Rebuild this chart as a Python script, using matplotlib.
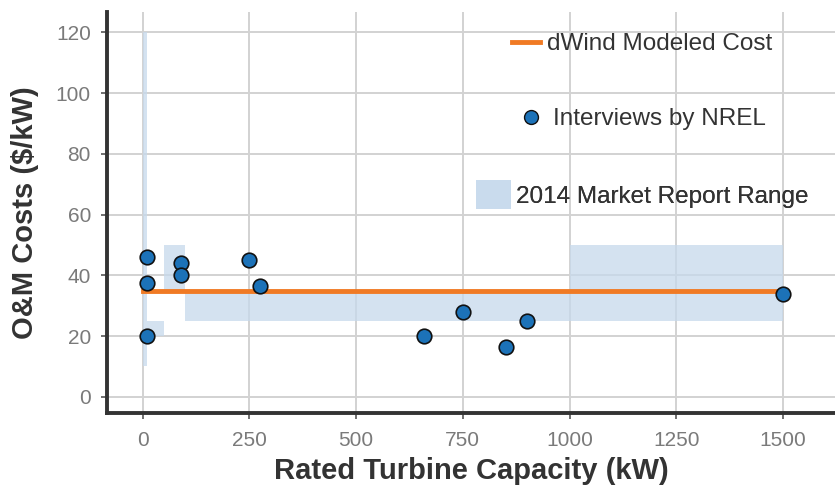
import matplotlib
matplotlib.use("Agg")
import matplotlib.pyplot as plt
from matplotlib.patches import Rectangle, Patch
from matplotlib.lines import Line2D

plt.rcParams['font.family'] = ['Liberation Sans', 'DejaVu Sans']

# market report ranges: (x0, x1, y0, y1)
range_x0 = [0, 10, 50, 100, 1000]
range_x1 = [10, 50, 100, 1000, 1500]
range_y0 = [10, 20, 35, 25, 25]
range_y1 = [120, 25, 50, 35, 50]

# dWind modeled cost
model_x = [0, 1500]
model_y = [35, 35]

# interviews by NREL
interview_kw = [10, 10, 10, 90, 90, 250, 275, 660, 750, 850, 900, 1500]
interview_cost = [46, 37.5, 20, 44, 40, 45, 36.5, 20, 28, 16.5, 25, 34]

fill_col = '#c6d9ec'
line_col = '#f07a24'
dot_col = '#1c72b8'

fig = plt.figure(figsize=(8.35, 4.87), dpi=100)
ax = fig.add_axes([0.128, 0.152, 0.872, 0.823])

for x0, x1, y0, y1 in zip(range_x0, range_x1, range_y0, range_y1):
    ax.add_patch(Rectangle((x0, y0), x1 - x0, y1 - y0, color=fill_col,
                           alpha=0.75, lw=0, zorder=1))

ax.plot(model_x, model_y, color=line_col, lw=3.5, zorder=3)
ax.scatter(interview_kw, interview_cost, s=110, color=dot_col,
           edgecolors='#111111', linewidths=1.2, zorder=4)

ax.set_xlim(-84, 1622)
ax.set_ylim(-5.3, 126.6)
ax.set_xticks([0, 250, 500, 750, 1000, 1250, 1500])
ax.set_yticks([0, 20, 40, 60, 80, 100, 120])
ax.grid(True, color='#d2d2d2', lw=1.4, zorder=0)
ax.set_axisbelow(True)

for s in ['top', 'right']:
    ax.spines[s].set_visible(False)
for s in ['left', 'bottom']:
    ax.spines[s].set_color('#333333')
    ax.spines[s].set_linewidth(2.8)
ax.tick_params(labelcolor='#7a7a7a', labelsize=15, length=4, width=1.2,
               color='#555555')
ax.tick_params(axis='x', pad=9)
ax.tick_params(axis='y', pad=7.5)

ax.set_xlabel('Rated Turbine Capacity (kW)', fontsize=21, fontweight='bold',
              color='#333333', labelpad=5)
ax.set_ylabel('O&M Costs (\\$/kW)', fontsize=21, fontweight='bold',
              color='#333333', labelpad=12)

# legend, one centered row per entry
leg_items = [
    (Line2D([], [], color=line_col, lw=3.5), 'dWind Modeled Cost', 1.15, 0.7, 0.3, 0.92),
    (Line2D([], [], marker='o', ls='', markersize=10, markerfacecolor=dot_col,
            markeredgecolor='#111111'), 'Interviews by NREL', 1.0, 0.7, 0.4, 0.733),
    (Patch(color=fill_col, alpha=0.75, lw=0), '2014 Market Report Range', 1.44, 1.44, 0.2, 0.545),
]
for h, lab, hl, hh, tp, yy in leg_items:
    lg = ax.legend([h], [lab], loc='center', bbox_to_anchor=(0.735, yy),
                   frameon=False, fontsize=17.5, handlelength=hl, handleheight=hh,
                   handletextpad=tp, labelcolor='#333333')
    ax.add_artist(lg)

fig.savefig('out.png', dpi=100)
